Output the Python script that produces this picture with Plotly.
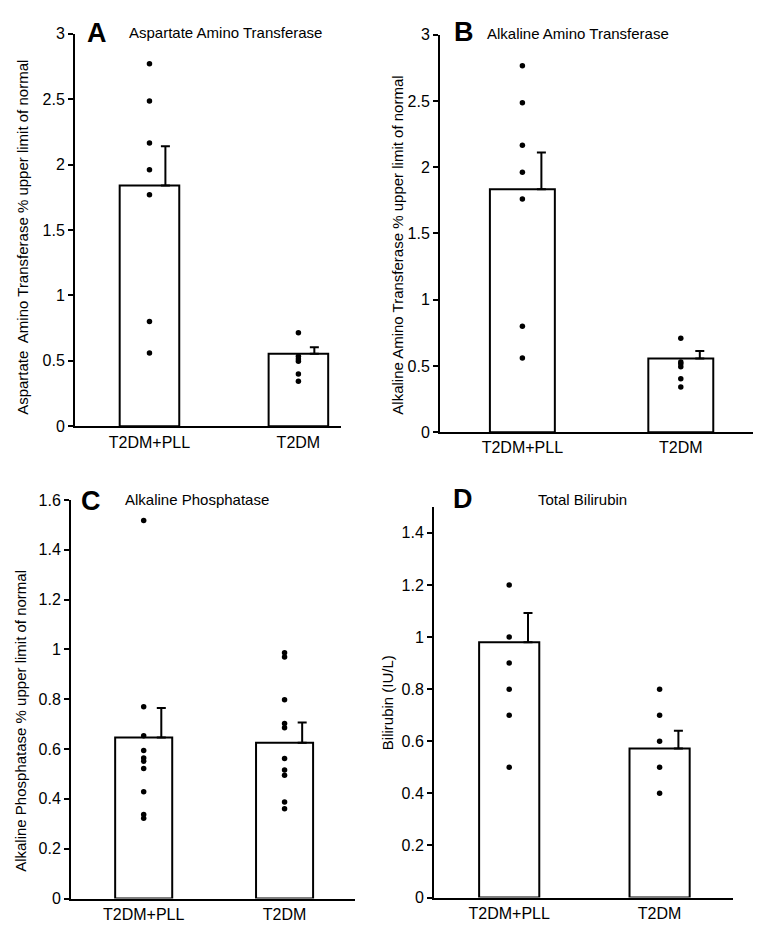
import plotly.graph_objects as go

W, H = 761, 927
FONT = "Liberation Sans, Arial, sans-serif"

categories = ["T2DM+PLL", "T2DM"]

# Panel A: Aspartate Amino Transferase
ast_mean = [1.84, 0.555]
ast_sem = [0.30, 0.05]
ast_pts_pll = [2.77, 2.485, 2.165, 1.96, 1.77, 0.80, 0.56]
ast_pts_t2dm = [0.715, 0.535, 0.515, 0.497, 0.40, 0.345]

# Panel B: Alkaline Amino Transferase
alt_mean = [1.833, 0.556]
alt_sem = [0.277, 0.057]
alt_pts_pll = [2.765, 2.486, 2.165, 1.962, 1.76, 0.80, 0.56]
alt_pts_t2dm = [0.709, 0.529, 0.516, 0.494, 0.403, 0.341]

# Panel C: Alkaline Phosphatase
alp_mean = [0.646, 0.625]
alp_sem = [0.119, 0.082]
alp_pts_pll = [1.518, 0.77, 0.653, 0.594, 0.564, 0.551, 0.522, 0.429, 0.337, 0.322]
alp_pts_t2dm = [0.987, 0.970, 0.798, 0.703, 0.686, 0.562, 0.516, 0.495, 0.387, 0.36]

# Panel D: Total Bilirubin
bil_mean = [0.98, 0.572]
bil_sem = [0.112, 0.068]
bil_pts_pll = [1.20, 1.00, 0.90, 0.80, 0.70, 0.50]
bil_pts_t2dm = [0.80, 0.70, 0.60, 0.50, 0.40]

panels = [
    dict(letter="A", title="Aspartate Amino Transferase",
         ytitle="Aspartate  Amino Transferase % upper limit of normal",
         mean=ast_mean, sem=ast_sem, pts=[ast_pts_pll, ast_pts_t2dm],
         xpx=(67, 333), ypx=(418, 18), yrange=[0, 3], dtick=0.5, xrange=[0, 1.786],
         bw=0.40, eoff=0.107,
         letter_pos=(88.5, 17), title_pos=(119, 17), ytitle_pos=(15, 226)),
    dict(letter="B", title="Alkaline Amino Transferase",
         ytitle="Alkaline Amino Transferase % upper limit of normal",
         mean=alt_mean, sem=alt_sem, pts=[alt_pts_pll, alt_pts_t2dm],
         xpx=(432, 752), ypx=(424, 19), yrange=[0, 3], dtick=0.5, xrange=[-0.02, 2.0],
         bw=0.41, eoff=0.12,
         letter_pos=(456, 16), title_pos=(477, 18), ytitle_pos=(390, 234)),
    dict(letter="C", title="Alkaline Phosphatase",
         ytitle="Alkaline Phosphatase % upper limit of normal",
         mean=alp_mean, sem=alp_sem, pts=[alp_pts_pll, alp_pts_t2dm],
         xpx=(63, 347), ypx=(899, 493), yrange=[0, 1.6], dtick=0.2, xrange=[-0.016, 2.0],
         bw=0.405, eoff=0.125,
         letter_pos=(83, 494), title_pos=(115, 493), ytitle_pos=(13, 718)),
    dict(letter="D", title="Total Bilirubin",
         ytitle="Bilirubin (IU/L)",
         mean=bil_mean, sem=bil_sem, pts=[bil_pts_pll, bil_pts_t2dm],
         xpx=(426, 725), ypx=(898, 500), yrange=[0, 1.5], dtick=0.2, xrange=[0, 1.988],
         bw=0.40, eoff=0.125,
         letter_pos=(455, 492), title_pos=(528, 493), ytitle_pos=(379, 700)),
]

xpos = [0.5, 1.5]
fig = go.Figure()
annotations = []
layout = {}

for i, p in enumerate(panels):
    n = "" if i == 0 else str(i + 1)
    xa, ya = "x" + n, "y" + n
    # bars
    fig.add_trace(go.Bar(x=xpos, y=p["mean"], width=p["bw"], xaxis=xa, yaxis=ya,
                         marker=dict(color="white", line=dict(color="black", width=2)),
                         showlegend=False, hoverinfo="skip"))
    # error bars (offset to the right, upward only)
    fig.add_trace(go.Scatter(x=[v + p["eoff"] for v in xpos], y=p["mean"], xaxis=xa, yaxis=ya,
                             mode="markers", marker=dict(size=1, opacity=0),
                             error_y=dict(type="data", symmetric=False, array=p["sem"],
                                          arrayminus=[0, 0], color="black", thickness=2, width=4.5),
                             showlegend=False, hoverinfo="skip"))
    # individual points
    for j, pts in enumerate(p["pts"]):
        fig.add_trace(go.Scatter(x=[xpos[j]] * len(pts), y=pts, xaxis=xa, yaxis=ya,
                                 mode="markers", marker=dict(size=5.5, color="black"),
                                 showlegend=False, hoverinfo="skip"))
    x0, x1 = p["xpx"]
    y0, y1 = p["ypx"]
    layout["xaxis" + n] = dict(domain=[x0 / W, x1 / W], range=p["xrange"], anchor=ya,
                               tickvals=xpos, ticktext=categories, ticks="",
                               showline=True, linecolor="black", linewidth=2,
                               showgrid=False, zeroline=False, fixedrange=True,
                               tickfont=dict(size=16, color="black", family=FONT))
    layout["yaxis" + n] = dict(domain=[1 - y0 / H, 1 - y1 / H], range=p["yrange"], anchor=xa,
                               dtick=p["dtick"], tick0=0, ticks="outside", ticklen=5, tickwidth=1.5,
                               tickcolor="black", showline=True, linecolor="black", linewidth=2,
                               showgrid=False, zeroline=False, fixedrange=True,
                               tickfont=dict(size=16, color="black", family=FONT))
    lx, ly = p["letter_pos"]
    annotations.append(dict(text="<b>" + p["letter"] + "</b>", x=lx / W, y=1 - ly / H,
                            xref="paper", yref="paper", xanchor="center", yanchor="middle",
                            showarrow=False, font=dict(size=27, color="black", family=FONT)))
    tx, ty = p["title_pos"]
    annotations.append(dict(text=p["title"], x=tx / W, y=1 - ty / H,
                            xref="paper", yref="paper", xanchor="left", yanchor="middle",
                            showarrow=False, font=dict(size=15, color="black", family=FONT)))
    yx, yy = p["ytitle_pos"]
    annotations.append(dict(text=p["ytitle"], x=yx / W, y=1 - yy / H, textangle=-90,
                            xref="paper", yref="paper", xanchor="center", yanchor="middle",
                            showarrow=False, font=dict(size=15, color="black", family=FONT)))

fig.update_layout(width=W, height=H, margin=dict(l=0, r=0, t=0, b=0),
                  paper_bgcolor="white", plot_bgcolor="white",
                  annotations=annotations, barmode="overlay", **layout)
fig.write_html("out.html")
